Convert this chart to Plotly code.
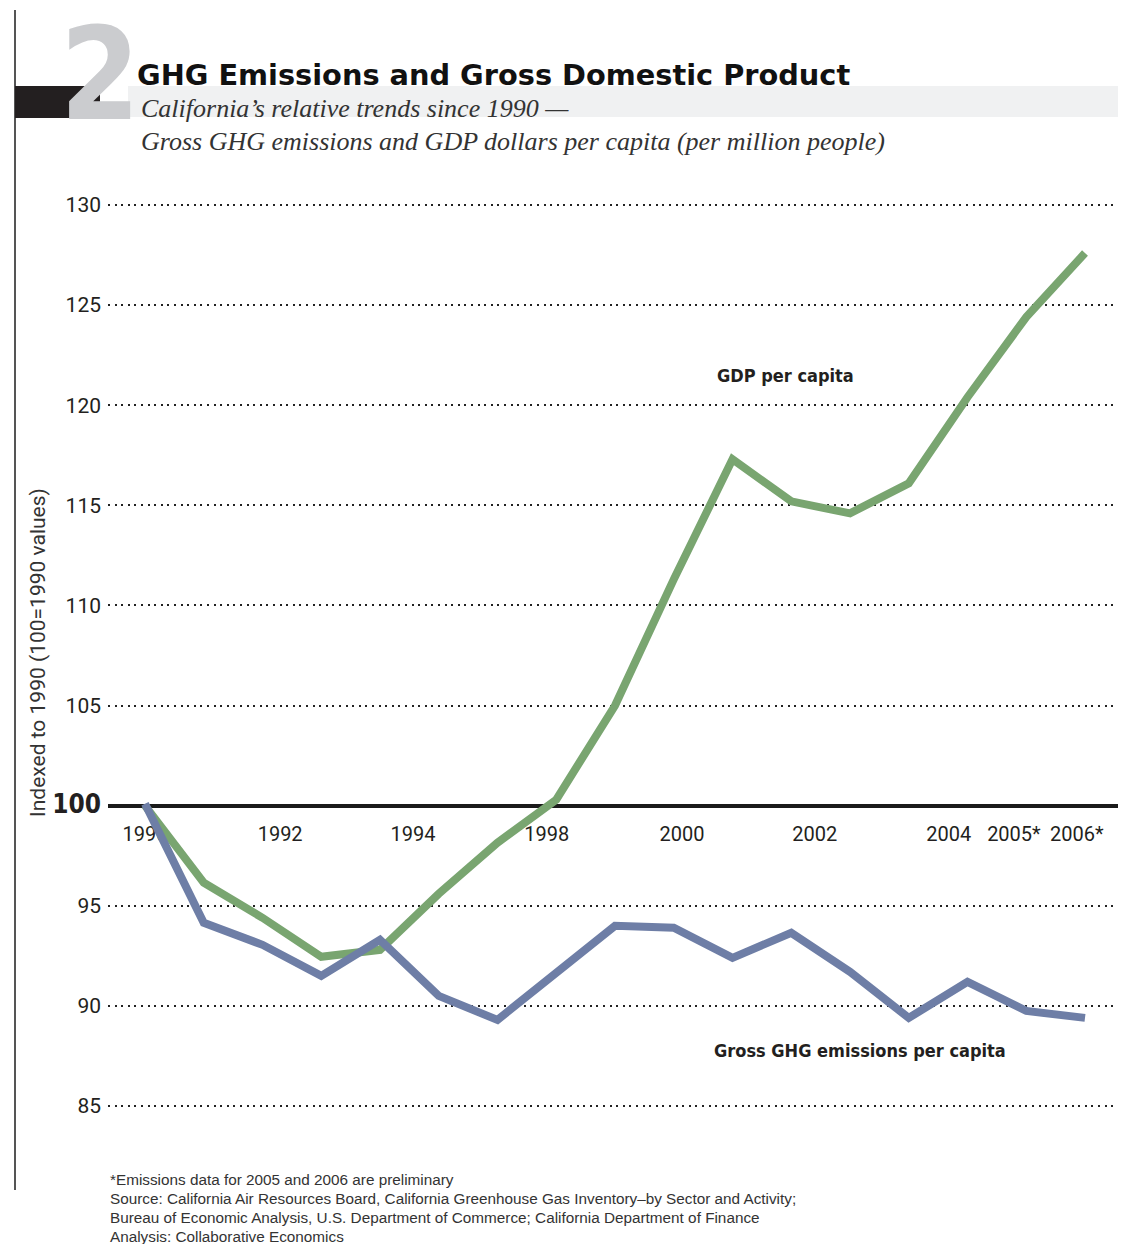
import plotly.graph_objects as go

# California per-capita indices, 1990 = 100
years = list(range(1990, 2007))
gdp_per_capita = [100.0, 96.15, 94.4, 92.45, 92.8, 95.6, 98.15, 100.3, 105.0,
                  111.3, 117.3, 115.2, 114.6, 116.1, 120.4, 124.4, 127.6]
ghg_per_capita = [100.1, 94.15, 93.05, 91.5, 93.3, 90.5, 89.3, 91.65, 94.0,
                  93.9, 92.4, 93.65, 91.7, 89.4, 91.2, 89.75, 89.4]

x_tick_labels = ["1990", "1992", "1994", "1998", "2000", "2002", "2004", "2005*", "2006*"]
y_tick_values = [85, 90, 95, 100, 105, 110, 115, 120, 125, 130]

# label placement along the year axis
x_tick_pos = [1990.0, 1992.30, 1994.56, 1996.84, 1999.14, 2001.40, 2003.68, 2004.79, 2005.86]

W, H = 1125, 1244
Y_LO, Y_HI = 84.8, 130.2
L, R, T, B = 108, 7, 201, 134
PW, PH = W - L - R, H - T - B


def px(x):
    return (x - L) / PW


def py(y):
    return (H - B - y) / PH


GREEN = "#79a570"
BLUE = "#6e7ea6"
TEXT = "#231f20"
LIGHT = "Roboto, Liberation Sans, sans-serif"
COND = "DejaVu Sans Condensed, Liberation Sans Narrow, Roboto, sans-serif"

fig = go.Figure()
fig.add_trace(go.Scatter(x=years, y=gdp_per_capita, mode="lines",
                         line=dict(color=GREEN, width=8), name="GDP per capita"))
fig.add_trace(go.Scatter(x=years, y=ghg_per_capita, mode="lines",
                         line=dict(color=BLUE, width=8), name="Gross GHG emissions per capita"))

y_text = []
for v in y_tick_values:
    if v == 100:
        y_text.append('<span style="font-size:26px;font-family:DejaVu Sans Condensed">'
                      '<b>100</b></span>')
    else:
        y_text.append(str(v))

fig.update_layout(
    width=W, height=H,
    margin=dict(l=L, r=R, t=T, b=B),
    paper_bgcolor="white", plot_bgcolor="white",
    showlegend=False,
    xaxis=dict(
        range=[1990 - 37 / 58.75, 1990 + (PW - 37) / 58.75],
        anchor="free", position=(100 - Y_LO) / (Y_HI - Y_LO),
        showgrid=False, zeroline=False,
        showline=True, linewidth=4, linecolor="#1a1a1a",
        layer="below traces",
        tickmode="array", tickvals=x_tick_pos, ticktext=x_tick_labels,
        ticks="", ticklabelstandoff=9,
        tickfont=dict(family=LIGHT, size=20, color=TEXT),
    ),
    yaxis=dict(
        range=[Y_LO, Y_HI],
        showline=False, zeroline=False,
        showgrid=True, gridcolor="#222222", gridwidth=1.5, griddash="2px,4.6px",
        tickmode="array", tickvals=y_tick_values, ticktext=y_text,
        ticks="", ticklabelstandoff=6,
        tickfont=dict(family=LIGHT, size=21, color=TEXT),
    ),
)

shapes = [
    # left rule
    dict(type="line", xref="paper", yref="paper", x0=px(15), x1=px(15),
         y0=py(10), y1=py(1190), line=dict(color="#555555", width=2)),
    # header bars
    dict(type="rect", xref="paper", yref="paper", x0=px(15), x1=px(100),
         y0=py(118), y1=py(86), fillcolor="#231f20", line=dict(width=0)),
    dict(type="rect", xref="paper", yref="paper", x0=px(128), x1=px(1118),
         y0=py(117), y1=py(86), fillcolor="#f0f1f2", line=dict(width=0)),
]
fig.update_layout(shapes=shapes)


def note(text, x, y, font, xanchor="left", yanchor="middle", **kw):
    return dict(text=text, xref="paper", yref="paper", x=px(x), y=py(y),
                xanchor=xanchor, yanchor=yanchor, font=font, showarrow=False, **kw)


annotations = [
    note("<b>2</b>", 100, 151, dict(family=COND, size=128, color="#cbcccf"),
         xanchor="center", yanchor="bottom"),
    note("<b>GHG Emissions and Gross Domestic Product</b>", 135, 75,
         dict(family="DejaVu Sans, sans-serif", size=28.8, color="#111111")),
    note("<i>California’s relative trends since 1990 —</i>", 139, 109,
         dict(family="Liberation Serif, serif", size=26, color="#333333")),
    note("<i>Gross GHG emissions and GDP dollars per capita (per million people)</i>", 139, 141,
         dict(family="Liberation Serif, serif", size=26, color="#333333")),
    note("Indexed to 1990 (100=1990 values)", 38, 653,
         dict(family=LIGHT, size=21, color="#333333"), xanchor="center", textangle=-90),
    note("<b>GDP per capita</b>", 785, 375,
         dict(family=COND, size=18, color=TEXT), xanchor="center"),
    note("<b>Gross GHG emissions per capita</b>", 860, 1050,
         dict(family=COND, size=18, color=TEXT), xanchor="center"),
]

footer = [
    "*Emissions data for 2005 and 2006 are preliminary",
    "Source: California Air Resources Board, California Greenhouse Gas Inventory–by Sector and Activity;",
    "Bureau of Economic Analysis, U.S. Department of Commerce; California Department of Finance",
    "Analysis: Collaborative Economics",
]
for i, line in enumerate(footer):
    annotations.append(note(line, 108, 1179 + 19 * i,
                            dict(family="Liberation Sans, Arial, sans-serif", size=15.3,
                                 color="#333333")))

fig.update_layout(annotations=annotations)

fig.write_html("out.html")
